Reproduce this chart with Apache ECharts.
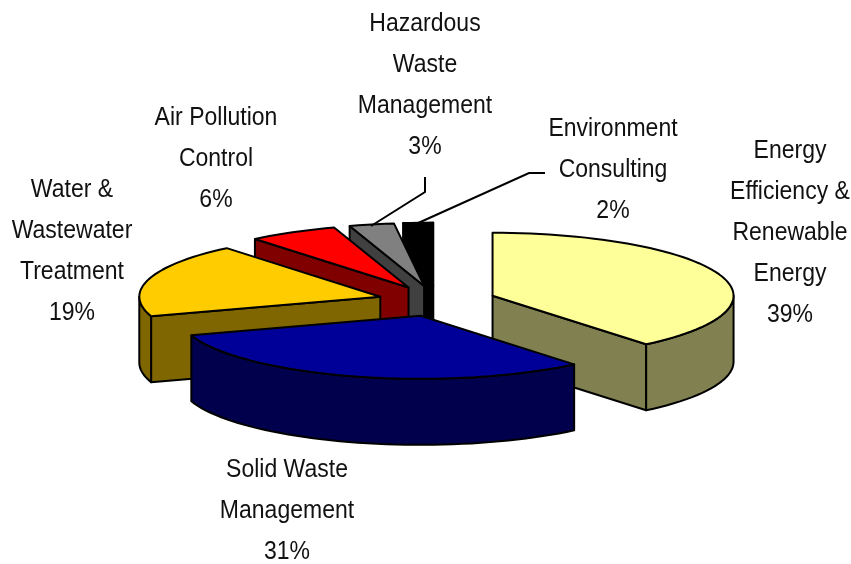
<!DOCTYPE html>
<html>
<head>
<meta charset="utf-8">
<style>
  html, body { margin: 0; padding: 0; background: #fff; }
  #pie3d { width: 851px; height: 564px; }
</style>
<script src="https://cdn.jsdelivr.net/npm/echarts@6/dist/echarts.min.js"></script>
</head>
<body>
<div id="pie3d"></div>
<script>
// 数据：从12点方向顺时针
const categories = [
  'Energy\nEfficiency &\nRenewable\nEnergy',
  'Solid Waste\nManagement',
  'Water &\nWastewater\nTreatment',
  'Air Pollution\nControl',
  'Hazardous\nWaste\nManagement',
  'Environment\nConsulting'
];
const shares = [39, 31, 19, 6, 3, 2];

// 样式：顶面颜色 / 侧面颜色
const topColors = ['#FFFF99', '#000099', '#FFCC00', '#FF0000', '#808080', '#000000'];
const wallColors = ['#808050', '#00004D', '#806600', '#800000', '#404040', '#000000'];
const drawOrder = [5, 4, 3, 2, 0, 1]; // 由后往前画

// 饼图的透视参数
const pieCenter = [437, 301];
const radiusX = 241;
const radiusY = 63;
const depth = 66;
const explode = 0.245;

// 文字位置 (中心点)
const labelCenters = [[790, 233], [287, 511], [72, 251], [216, 159], [425, 85], [613, 170]];
const leaderLines = {
  4: [[425, 177], [425, 192], [371, 226]],
  5: [[545, 173], [529, 173], [416, 224]]
};

const total = shares.reduce((a, b) => a + b, 0);

function rad (share) {
  return share / total * Math.PI * 2;
}

function buildSlice (i) {
  let before = 0;
  for (let k = 0; k < i; k++) before += shares[k];
  const a0 = rad(before);
  const a1 = rad(before + shares[i]);
  const mid = (a0 + a1) / 2;
  const cx = pieCenter[0] + explode * radiusX * Math.sin(mid);
  const cy = pieCenter[1] - explode * radiusY * Math.cos(mid);
  const pt = function (a, dy) {
    return [cx + radiusX * Math.sin(a), cy - radiusY * Math.cos(a) + (dy || 0)];
  };
  const arc = function (from, to, dy) {
    const pts = [];
    const n = Math.max(2, Math.ceil((to - from) / 0.04));
    for (let j = 0; j <= n; j++) pts.push(pt(from + (to - from) * j / n, dy));
    return pts;
  };
  const poly = function (points, fill) {
    return {
      type: 'polygon',
      shape: { points: points },
      style: { fill: fill, stroke: '#000', lineWidth: 2, lineJoin: 'round' }
    };
  };
  const children = [];
  const apex = [cx, cy];
  const apexLow = [cx, cy + depth];

  // 切面
  if (Math.sin(a0) < -1e-6) {
    children.push(poly([apex, pt(a0), pt(a0, depth), apexLow], wallColors[i]));
  }
  if (Math.sin(a1) > 1e-6) {
    children.push(poly([apex, pt(a1), pt(a1, depth), apexLow], wallColors[i]));
  }
  // 外侧弧面，只有前半圈看得见
  const w0 = Math.max(a0, Math.PI / 2);
  const w1 = Math.min(a1, Math.PI * 1.5);
  if (w1 > w0) {
    const upper = arc(w0, w1, 0);
    const lower = arc(w0, w1, depth).reverse();
    children.push(poly(upper.concat(lower), wallColors[i]));
  }
  // 顶面
  children.push(poly([apex].concat(arc(a0, a1, 0)), topColors[i]));
  return children;
}

function getPie3d () {
  const myChart = echarts.init(document.getElementById('pie3d'));

  const option = {
    animation: false,
    backgroundColor: '#fff',
    series: [
      {
        type: 'custom',
        coordinateSystem: 'none',
        data: drawOrder.map(function (i) { return [i, shares[i]]; }),
        renderItem: function (params, api) {
          const i = api.value(0);
          const children = buildSlice(i);
          if (leaderLines[i]) {
            children.push({
              type: 'polyline',
              shape: { points: leaderLines[i] },
              style: { fill: 'none', stroke: '#000', lineWidth: 2 }
            });
          }
          children.push({
            type: 'text',
            x: labelCenters[i][0],
            y: labelCenters[i][1],
            scaleX: 0.885,
            style: {
              text: categories[i] + '\n' + api.value(1) + '%',
              align: 'center',
              verticalAlign: 'middle',
              lineHeight: 41,
              fill: '#111',
              font: '26px "Liberation Sans", Arial, sans-serif'
            }
          });
          return { type: 'group', children: children };
        }
      }
    ]
  };

  myChart.setOption(option);
}

getPie3d();
</script>
</body>
</html>
